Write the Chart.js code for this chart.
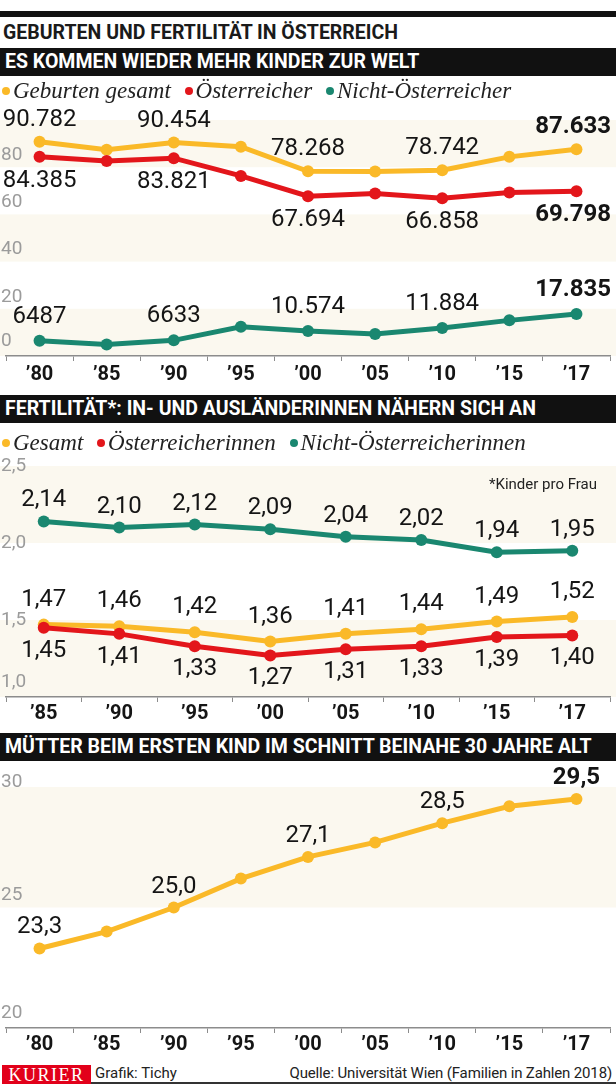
<!DOCTYPE html>
<html lang="de">
<head>
<meta charset="utf-8">
<title>Geburten und Fertilität in Österreich</title>
<script src="https://cdn.jsdelivr.net/npm/chart.js@4.4.1/dist/chart.umd.min.js"></script>
<style>
  html, body { margin: 0; padding: 0; background: #fff; }
  body { width: 616px; height: 1084px; position: relative; overflow: hidden;
         font-family: Roboto, 'DejaVu Sans', sans-serif; color: #1a1a1a; }
  .abs { position: absolute; }
  .rule { left: 0; top: 11px; width: 616px; height: 6px; background: #111; }
  .title { left: 3px; top: 22px; font-weight: 700; font-size: 19.5px; line-height: 22px; white-space: nowrap; }
  .bar { left: 0; width: 616px; height: 28px; line-height: 28px; background: #111; color: #fff;
         font-weight: 700; font-size: 19.5px; padding-left: 5px; box-sizing: border-box; white-space: nowrap; }
  .legend { left: 2px; height: 26px; line-height: 26px; font-family: 'Liberation Serif', 'DejaVu Serif', serif;
            font-style: italic; font-size: 23px; color: #222; white-space: nowrap; z-index: 2; }
  .legend .dot { display: inline-block; width: 8px; height: 8px; border-radius: 50%; margin: 0 3px 0 0;
                 vertical-align: 3px; }
  .legend .item { margin-right: 8px; }
  canvas { position: absolute; left: 0; }
  .note { right: 19px; top: 475px; font-size: 15px; line-height: 18px; color: #222; z-index: 2; }
  .kurier { left: 2px; top: 1065px; width: 89px; height: 19px; background: #e2001a; color: #fff;
            font-family: 'Liberation Serif', 'DejaVu Serif', serif; font-size: 18px; line-height: 20px;
            text-align: center; letter-spacing: 1.5px; }
  .credit { top: 1064px; font-size: 15px; line-height: 19px; color: #222; white-space: nowrap; }
  .foot-line { left: 91px; top: 1082px; width: 525px; height: 2px; background: #333; }
</style>
</head>
<body>
<div class="abs rule"></div>
<div class="abs title">GEBURTEN UND FERTILITÄT IN ÖSTERREICH</div>

<div class="abs bar" style="top:48px">ES KOMMEN WIEDER MEHR KINDER ZUR WELT</div>
<div class="abs legend" style="top:78px">
  <span class="item"><span class="dot" style="background:#fab928"></span>Geburten gesamt</span>
  <span class="item"><span class="dot" style="background:#e3161b"></span>Österreicher</span>
  <span class="item"><span class="dot" style="background:#1a8770"></span>Nicht-Österreicher</span>
</div>
<canvas id="c1" width="616" height="295" style="top:100px"></canvas>

<div class="abs bar" style="top:395px">FERTILITÄT*: IN- UND AUSLÄNDERINNEN NÄHERN SICH AN</div>
<div class="abs legend" style="top:430px">
  <span class="item"><span class="dot" style="background:#fab928"></span>Gesamt</span>
  <span class="item"><span class="dot" style="background:#e3161b"></span>Österreicherinnen</span>
  <span class="item"><span class="dot" style="background:#1a8770"></span>Nicht-Österreicherinnen</span>
</div>
<canvas id="c2" width="616" height="283" style="top:450px"></canvas>
<div class="abs note">*Kinder pro Frau</div>

<div class="abs bar" style="top:733px">MÜTTER BEIM ERSTEN KIND IM SCHNITT BEINAHE 30 JAHRE ALT</div>
<canvas id="c3" width="616" height="301" style="top:762px"></canvas>

<div class="abs kurier">KURIER</div>
<div class="abs credit" style="left:95px">Grafik: Tichy</div>
<div class="abs credit" style="right:4px; letter-spacing:-0.15px">Quelle: Universität Wien (Familien in Zahlen 2018)</div>
<div class="abs foot-line"></div>

<script>
// --- data ---
const years1 = ['’80', '’85', '’90', '’95', '’00', '’05', '’10', '’15', '’17'];
const geburten = [90782, 87440, 90454, 88669, 78268, 78190, 78742, 84381, 87633];
const oesterreicher = [84385, 82600, 83821, 76300, 67694, 68900, 66858, 69300, 69798];
const nichtOesterreicher = [6487, 4850, 6633, 12400, 10574, 9300, 11884, 15100, 17835];
const yTicks1 = [0, 20000, 40000, 60000, 80000, 100000];
const yTickText1 = ['0', '20', '40', '60', '80'];

const years2 = ['’85', '’90', '’95', '’00', '’05', '’10', '’15', '’17'];
const fertGesamt = [1.47, 1.46, 1.42, 1.36, 1.41, 1.44, 1.49, 1.52];
const fertOe = [1.45, 1.41, 1.33, 1.27, 1.31, 1.33, 1.39, 1.40];
const fertNichtOe = [2.14, 2.10, 2.12, 2.09, 2.04, 2.02, 1.94, 1.95];
const yTicks2 = [1.0, 1.5, 2.0, 2.5];
const yTickText2 = ['1,0', '1,5', '2,0', '2,5'];

const alterErstesKind = [23.3, 24.0, 25.0, 26.2, 27.1, 27.7, 28.5, 29.2, 29.5];
const yTicks3 = [20, 25, 30];
const yTickText3 = ['20', '25', '30'];

const YELLOW = '#fab928', RED = '#e3161b', TEAL = '#1a8770';
const FONT = "Roboto, 'DejaVu Sans', sans-serif";

const fmtBirths = v => v >= 10000 ? v.toLocaleString('de-DE') : String(v);
const fmtComma = d => v => v.toFixed(d).replace('.', ',');

// cream bands + grey value labels on the left
const bandPlugin = {
  id: 'bands',
  beforeDraw(chart, args, opts) {
    const {ctx, chartArea} = chart;
    const y = chart.scales.y;
    const t = opts.ticks;
    ctx.save();
    ctx.fillStyle = '#fbf8ef';
    for (let k = t.length - 1, n = 0; k > 0; k--, n++) {
      if (n % 2 === 0) {
        const top = y.getPixelForValue(t[k]);
        const bot = y.getPixelForValue(t[k - 1]);
        ctx.fillRect(0, top, chart.width, bot - top);
      }
    }
    ctx.font = '400 19px ' + FONT;
    ctx.fillStyle = '#9b9b9b';
    ctx.textBaseline = 'middle';
    ctx.textAlign = 'left';
    opts.labels.forEach((s, k) => {
      let py = y.getPixelForValue(t[k]) + opts.shift;
      py = Math.min(py, chartArea.bottom - 15);
      py = Math.max(py, chartArea.top - 5);
      ctx.fillText(s, 1, py);
    });
    ctx.restore();
  }
};

// numbers next to points
const valueLabels = {
  id: 'valueLabels',
  afterDatasetsDraw(chart) {
    const ctx = chart.ctx;
    chart.data.datasets.forEach((ds, i) => {
      const meta = chart.getDatasetMeta(i);
      (ds.labelIdx || []).forEach(j => {
        const pt = meta.data[j];
        const bold = (ds.boldIdx || []).includes(j);
        const txt = ds.fmt(ds.data[j]);
        ctx.save();
        ctx.font = (bold ? '700 ' : '400 ') + '24px ' + FONT;
        ctx.fillStyle = '#151515';
        ctx.textBaseline = 'middle';
        ctx.textAlign = 'center';
        const tw = ctx.measureText(txt).width;
        let x = pt.x;
        if (x + tw / 2 > chart.width - 5) x = chart.width - 5 - tw / 2;
        if (x - tw / 2 < 2) x = 2 + tw / 2;
        const yy = pt.y + (ds.labelPos === 'below' ? ds.gap : -ds.gap);
        ctx.fillText(txt, x, yy);
        ctx.restore();
      });
    });
  }
};

function line(data, color, extra) {
  return Object.assign({
    data: data,
    borderColor: color,
    backgroundColor: color,
    pointBackgroundColor: color,
    pointBorderWidth: 0,
    pointRadius: 6,
    borderWidth: 5,
    tension: 0,
    clip: false
  }, extra);
}

function makeChart(id, labels, datasets, yMin, yMax, ticks, tickText, shift, pad, tickPad) {
  return new Chart(document.getElementById(id), {
    type: 'line',
    data: { labels: labels, datasets: datasets },
    options: {
      responsive: false,
      animation: false,
      layout: { padding: pad },
      plugins: {
        legend: { display: false },
        tooltip: { enabled: false },
        bands: { ticks: ticks, labels: tickText, shift: shift }
      },
      scales: {
        x: {
          offset: true,
          grid: { offset: true, drawOnChartArea: false, tickLength: 5, color: '#8c8c8c', lineWidth: 1 },
          border: { display: true, color: '#8c8c8c', width: 1.5 },
          ticks: { color: '#151515', font: { family: FONT, weight: 'bold', size: 20 },
                   padding: tickPad, maxRotation: 0, autoSkip: false }
        },
        y: { display: false, min: yMin, max: yMax }
      }
    },
    plugins: [bandPlugin, valueLabels]
  });
}

makeChart('c1', years1, [
  line(geburten, YELLOW, { order: 3, labelIdx: [0, 2, 4, 6, 8], boldIdx: [8], labelPos: 'above', gap: 22, fmt: fmtBirths }),
  line(oesterreicher, RED, { order: 2, labelIdx: [0, 2, 4, 6, 8], boldIdx: [8], labelPos: 'below', gap: 24, fmt: fmtBirths }),
  line(nichtOesterreicher, TEAL, { order: 1, labelIdx: [0, 2, 4, 6, 8], boldIdx: [8], labelPos: 'above', gap: 24, fmt: fmtBirths })
], 0, 100000, yTicks1, yTickText1, -12, { top: 20, bottom: 6, left: 3, right: 3 }, 2);

makeChart('c2', years2, [
  line(fertGesamt, YELLOW, { order: 3, labelIdx: [0, 1, 2, 3, 4, 5, 6, 7], labelPos: 'above', gap: 25, fmt: fmtComma(2) }),
  line(fertOe, RED, { order: 2, labelIdx: [0, 1, 2, 3, 4, 5, 6, 7], labelPos: 'below', gap: 23, fmt: fmtComma(2) }),
  line(fertNichtOe, TEAL, { order: 1, labelIdx: [0, 1, 2, 3, 4, 5, 6, 7], labelPos: 'above', gap: 21, fmt: fmtComma(2) })
], 1.0, 2.5, yTicks2, yTickText2, 0, { top: 16, bottom: 7, left: 1, right: 3 }, 0);

makeChart('c3', years1, [
  line(alterErstesKind, YELLOW, { labelIdx: [0, 2, 4, 6, 8], boldIdx: [8], labelPos: 'above', gap: 21, fmt: fmtComma(1) })
], 20, 30, yTicks3, yTickText3, -12, { top: 25, bottom: 6, left: 3, right: 3 }, 0);
</script>
</body>
</html>
